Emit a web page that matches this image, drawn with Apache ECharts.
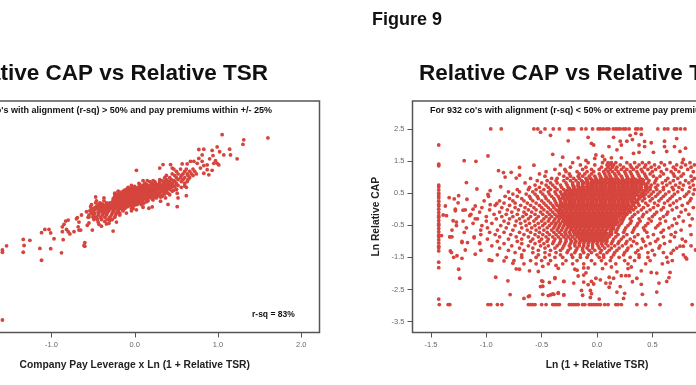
<!DOCTYPE html>
<html>
<head>
<meta charset="utf-8">
<script src="https://cdn.jsdelivr.net/npm/echarts@6/dist/echarts.min.js"></script>
<style>
html, body { margin: 0; padding: 0; background: #fff; }
#chart { width: 696px; height: 385px; }
</style>
</head>
<body>
<div id="chart"></div>
<script>
var leverageTicks = [-2, -1, 0, 1, 2];
var tsrTicks = [-1.5, -1, -0.5, 0, 0.5, 1, 1.5];
var capTicks = [2.5, 1.5, 0.5, -0.5, -1.5, -2.5, -3.5];

// left panel: rows of [Ln Relative CAP, [x values]]
var alignedRows = [
  [1.25, [.47, .55, .62, .70]],
  [1.18, [.50, .60, .66, .72]],
  [1.10, [.45, .52, .58, .63, .68, .74]],
  [1.05, [.38, .48, .56, .64, .70]],
  [.98, [.36, .42, .50, .55, .60, .66]],
  [.92, [.30, .38, .44, .52, .58, .64]],
  [.86, [.18, .24, .30, .36, .42, .48, .56, .63]],
  [.80, [.05, .12, .20, .25, .30, .35, .40, .45, .50, .60]],
  [.74, [-.04, .10, .16, .20, .24, .28, .32, .36, .40, .46, .52]],
  [.68, [-.08, -.02, .04, .08, .12, .16, .20, .24, .28, .32, .38, .44, .56, .62]],
  [.62, [-.10, -.06, -.02, .02, .06, .10, .14, .18, .22, .26, .30, .36, .42, .50]],
  [.56, [-.20, -.14, -.10, -.06, -.02, .02, .06, .10, .14, .18, .22, .26, .32, .38, .45]],
  [.50, [-.24, -.18, -.14, -.10, -.06, -.02, .02, .06, .10, .14, .18, .22, .30, .40, .51]],
  [.44, [-.24, -.20, -.16, -.12, -.08, -.04, 0, .04, .08, .12, .16, .21, .28, .33]],
  [.38, [-.23, -.19, -.15, -.11, -.07, -.03, .01, .05, .09, .13, .18, .24, .31]],
  [.32, [-.26, -.21, -.17, -.13, -.09, -.05, -.01, .03, .07, .11, .15, .21]],
  [.26, [-.46, -.37, -.23, -.19, -.15, -.11, -.07, -.03, .01, .05, .09, .16]],
  [.20, [-.47, -.42, -.34, -.25, -.20, -.16, -.12, -.08, -.04, 0, .05, .11]],
  [.14, [-.52, -.44, -.38, -.30, -.24, -.18, -.14, -.10, -.05, .02, .08]],
  [.08, [-.53, -.46, -.40, -.33, -.26, -.20, -.15, -.09, -.04]],
  [.02, [-.52, -.45, -.38, -.34, -.29, -.24, -.18, -.12, -.04]],
  [-.05, [-.54, -.50, -.42, -.36, -.31, -.25, -.20, -.14, -.04]],
  [-.12, [-.52, -.48, -.43, -.37, -.33, -.27, -.22, -.18]],
  [-.18, [-.55, -.49, -.44, -.39, -.34, -.28, -.23, -.18]],
  [-.25, [-.56, -.50, -.46, -.41, -.36, -.30, -.24]],
  [-.32, [-.49, -.45, -.40, -.33, -.27]]
];
var alignedCoreRows = [
  [.89, [.10, .15, .22, .33, .39, .47]],
  [.77, [.06, .14, .22, .26, .30, .34, .38, .43]],
  [.71, [0, .06, .10, .14, .18, .22, .26, .30, .34, .42, .48]],
  [.65, [-.04, 0, .04, .08, .12, .16, .20, .24, .28, .34, .40]],
  [.59, [-.12, -.08, -.04, 0, .04, .08, .12, .16, .20, .24, .30, .36, .47]],
  [.53, [-.18, -.12, -.08, -.04, 0, .04, .08, .12, .16, .20, .26, .35]],
  [.47, [-.22, -.16, -.12, -.08, -.04, 0, .04, .08, .12, .16, .20, .25, .36]],
  [.41, [-.22, -.18, -.14, -.10, -.06, -.02, .02, .06, .10, .14, .20, .27]],
  [.35, [-.25, -.20, -.16, -.12, -.08, -.04, 0, .04, .08, .12, .17, .26, .37]],
  [.29, [-.24, -.19, -.15, -.11, -.07, -.03, .01, .05, .09, .14, .22]],
  [.23, [-.27, -.22, -.18, -.14, -.10, -.06, -.02, .02, .07, .14]],
  [.17, [-.40, -.33, -.26, -.21, -.17, -.12, -.07, -.02, .04, .10]],
  [.11, [-.42, -.36, -.28, -.23, -.18, -.12, -.07, -.01]],
  [.05, [-.48, -.42, -.36, -.30, -.23, -.17, -.11]],
  [-.01, [-.48, -.40, -.32, -.26, -.20, -.15]],
  [-.08, [-.50, -.44, -.39, -.33, -.26, -.20]]
];
var alignedPoints = [
  [1.05, 2.32], [1.6, 2.22], [1.31, 2.16], [1.30, 2.02], [.77, 1.86], [.83, 1.87], [.99, 1.94], [.93, 1.83],
  [1.14, 1.87], [.81, 1.69], [.94, 1.67], [1.02, 1.79], [1.07, 1.69], [1.15, 1.69], [.77, 1.58], [.90, 1.57],
  [1.23, 1.57], [.97, 1.51], [.99, 1.43], [.95, 1.43], [1.01, 1.38], [.63, 1.41], [.57, 1.41], [.67, 1.49],
  [.71, 1.49], [.75, 1.43], [.79, 1.28], [.83, 1.12], [.89, 1.07], [.93, 1.21], [.87, 1.23], [.83, 1.36],
  [.87, 1.38], [.81, 1.49], [.34, 1.39], [.43, 1.39], [.45, 1.28], [.02, 1.21], [.30, 1.28], [.40, .15],
  [.31, .25], [.51, .08], [.62, .42], [.52, .35], [.21, .07], [.33, .40], [.42, .45], [.50, .62], [.60, .72],
  [-1.59, -3.45], [-1.54, -1.14], [-1.59, -1.27], [-1.59, -1.34], [-1.34, -.94], [-1.33, -1.13], [-1.34, -1.34],
  [-1.26, -.97], [-1.12, -.73], [-1.08, -.63], [-1.03, -.63], [-1.01, -.74], [-.97, -.92], [-.86, -.95],
  [-1.14, -1.22], [-1.01, -1.23], [-1.12, -1.59], [-.88, -1.36], [-.60, -1.15], [-.60, -1.04], [-.61, -1.13],
  [-.87, -.55], [-.85, -.47], [-.83, -.37], [-.80, -.34], [-.87, -.70], [-.82, -.63], [-.80, -.70], [-.78, -.77],
  [-.73, -.70], [-.67, -.65], [-.68, -.55], [-.67, -.40], [-.70, -.30], [-.69, -.26], [-.64, -.18], [-.65, -.65],
  [-.57, -.50], [-.55, -.43], [-.51, -.65], [-.55, -.24], [-.43, -.47], [-.40, -.53], [-.26, -.68], [-.22, -.40],
  [-.34, -.46], [-.30, -.35], [-.50, -.20], [-.49, -.28], [-.44, -.40], [-.36, -.38], [-.31, -.44], [-.58, -.08],
  [-.47, .38], [-.37, .35], [-.30, .20], [-.10, -.12], [.02, -.02], [-.02, .02], [.10, .06], [.17, .03]
];

// right panel
var cappedTop = [-.96, -.865, -.57, -.535, -.47, -.395, -.34, -.25, -.23, -.21, -.14, -.10, -.04, .01, .03, .057, .087, .108,
  .147, .17, .19, .21, .24, .26, .29, .35, .37, .40, .55, .61, .64, .70, .72, .755, .795];
var cappedBottom = [-1.425, -1.345, -1.33, -.985, -.96, -.90, -.86, -.62, -.60, -.58, -.56, -.50, -.46, -.40, -.38, -.36, -.34,
  -.25, -.23, -.21, -.19, -.17, -.13, -.11, -.07, -.05, -.03, -.01, .01, .03, .07, .10, .17, .19, .22, .36, .44, .57, .86];
var cappedLeft = [2.0, 1.4, 1.35, .75, .7, .6, .5, .42, .35, .25, .15, .1, 0, -.1, -.2, -.25, -.35, -.45, -.5, -.6, -.7, -.8,
  -.85, -.95, -1.05, -1.15, -1.2, -1.3, -1.65, -1.82, -2.8];
var scatterRows = [
  [1.45, [-.22, -.08, .05, .10, .13, .17, .27, .34, .41, .47, .58, .66, .77, .84]],
  [1.38, [-.33, -.15, -.02, .09, .12, .15, .21, .30, .38, .44, .52, .61, .72, .80, .88]],
  [1.31, [-.24, -.10, .04, .10, .14, .18, .24, .31, .36, .43, .49, .56, .69, .76, .85]],
  [1.24, [-.38, -.29, -.13, -.05, .02, .08, .12, .17, .22, .27, .33, .40, .46, .53, .63, .71, .82]],
  [1.17, [-.46, -.28, -.18, -.09, -.03, .06, .10, .14, .19, .25, .30, .36, .41, .50, .58, .67, .74, .87]],
  [1.10, [-.52, -.34, -.25, -.16, -.11, -.05, .02, .07, .11, .16, .20, .26, .31, .37, .43, .48, .60, .69, .78]],
  [1.03, [-.47, -.30, -.24, -.17, -.13, -.07, -.02, .03, .08, .12, .17, .22, .27, .32, .38, .44, .51, .57, .70, .76, .85]],
  [.96, [-.60, -.41, -.36, -.27, -.21, -.16, -.10, -.06, -.01, .04, .09, .13, .18, .23, .28, .33, .39, .45, .54, .64, .73, .88]],
  [.89, [-.54, -.45, -.37, -.30, -.24, -.19, -.14, -.09, -.04, 0, .04, .08, .12, .16, .20, .24, .28, .32, .37, .42, .47, .53, .62, .69, .80, .86]],
  [.82, [-.65, -.50, -.42, -.36, -.28, -.22, -.17, -.12, -.08, -.03, .01, .05, .09, .13, .17, .21, .25, .29, .33, .37, .41, .46, .52, .59, .66, .75, .83]],
  [.75, [-.56, -.46, -.40, -.33, -.27, -.22, -.17, -.13, -.08, -.04, 0, .04, .08, .12, .16, .20, .24, .28, .32, .36, .40, .44, .49, .55, .63, .71, .78, .87]],
  [.68, [-.61, -.52, -.44, -.38, -.32, -.26, -.21, -.16, -.12, -.08, -.04, 0, .04, .08, .12, .16, .20, .24, .28, .32, .36, .40, .44, .48, .53, .60, .68, .74, .84]],
  [.61, [-.72, -.62, -.55, -.48, -.42, -.36, -.30, -.25, -.20, -.16, -.12, -.08, -.04, 0, .04, .08, .12, .16, .20, .24, .28, .32, .36, .40, .44, .48, .54, .60, .69, .77, .88]],
  [.54, [-.80, -.70, -.58, -.51, -.44, -.38, -.33, -.28, -.22, -.18, -.14, -.10, -.06, -.02, .02, .06, .10, .14, .18, .22, .26, .30, .34, .38, .42, .46, .51, .57, .65, .73, .83]],
  [.47, [-.76, -.64, -.56, -.49, -.43, -.37, -.32, -.28, -.24, -.20, -.16, -.12, -.08, -.04, 0, .04, .08, .12, .16, .20, .24, .28, .32, .36, .40, .44, .49, .55, .62, .70, .81, .87]],
  [.40, [-.98, -.83, -.72, -.61, -.54, -.47, -.41, -.35, -.30, -.26, -.22, -.18, -.14, -.10, -.06, -.02, .02, .06, .10, .14, .18, .22, .26, .30, .34, .38, .42, .47, .53, .60, .68, .79]],
  [.33, [-.79, -.68, -.60, -.53, -.46, -.39, -.34, -.30, -.26, -.22, -.18, -.14, -.10, -.06, -.02, .02, .06, .10, .14, .18, .22, .26, .30, .34, .38, .43, .50, .58, .66, .75, .85]],
  [.26, [-1.02, -.88, -.76, -.66, -.58, -.50, -.44, -.38, -.33, -.28, -.24, -.20, -.16, -.12, -.08, -.04, 0, .04, .08, .12, .16, .20, .24, .28, .32, .36, .41, .48, .56, .64, .72, .84]],
  [.19, [-.84, -.74, -.63, -.55, -.48, -.42, -.37, -.32, -.28, -.24, -.20, -.16, -.12, -.08, -.04, 0, .04, .08, .12, .16, .20, .24, .28, .32, .37, .44, .52, .61, .69, .82]],
  [.12, [-.92, -.79, -.69, -.60, -.52, -.46, -.40, -.36, -.31, -.27, -.23, -.19, -.15, -.11, -.07, -.03, .01, .05, .09, .13, .17, .21, .25, .29, .33, .38, .46, .55, .66, .77]],
  [.05, [-1.04, -.86, -.74, -.65, -.57, -.50, -.44, -.39, -.34, -.30, -.26, -.22, -.18, -.14, -.10, -.06, -.02, .02, .06, .10, .14, .18, .22, .26, .30, .35, .42, .51, .60, .72, .87]],
  [-.02, [-.97, -.81, -.71, -.62, -.55, -.48, -.42, -.37, -.33, -.28, -.24, -.20, -.16, -.12, -.08, -.04, 0, .04, .08, .12, .16, .20, .24, .28, .33, .40, .48, .58, .68, .80]],
  [-.09, [-1.06, -.88, -.77, -.66, -.59, -.51, -.45, -.40, -.35, -.31, -.27, -.23, -.19, -.15, -.11, -.07, -.03, .01, .05, .09, .13, .17, .21, .25, .30, .37, .45, .54, .64, .76]],
  [-.16, [-1.14, -.93, -.82, -.72, -.64, -.56, -.49, -.43, -.38, -.34, -.30, -.26, -.22, -.18, -.14, -.10, -.06, -.02, .02, .06, .10, .14, .18, .22, .27, .34, .42, .52, .63, .83]],
  [-.23, [-1.0, -.86, -.76, -.67, -.60, -.53, -.46, -.41, -.36, -.32, -.28, -.24, -.20, -.16, -.12, -.08, -.04, 0, .04, .08, .12, .16, .20, .25, .32, .41, .50, .60, .74]],
  [-.30, [-1.10, -.91, -.79, -.70, -.62, -.55, -.48, -.43, -.38, -.34, -.30, -.26, -.22, -.18, -.14, -.10, -.06, -.02, .02, .06, .10, .14, .18, .24, .30, .38, .47, .57, .70, .86]],
  [-.37, [-1.21, -1.0, -.84, -.73, -.65, -.57, -.50, -.44, -.39, -.35, -.31, -.27, -.23, -.19, -.15, -.11, -.07, -.03, .01, .05, .09, .13, .17, .23, .31, .39, .49, .62, .78]],
  [-.44, [-1.12, -.95, -.80, -.69, -.61, -.53, -.47, -.41, -.37, -.33, -.29, -.25, -.21, -.17, -.13, -.09, -.05, -.01, .03, .07, .11, .16, .22, .30, .37, .46, .57, .72]],
  [-.51, [-1.27, -1.04, -.87, -.74, -.64, -.56, -.49, -.43, -.38, -.34, -.30, -.26, -.22, -.18, -.14, -.10, -.06, -.02, .02, .06, .10, .14, .20, .28, .36, .44, .55, .68, .84]],
  [-.58, [-1.18, -.99, -.82, -.68, -.59, -.52, -.45, -.39, -.35, -.31, -.27, -.23, -.19, -.15, -.11, -.07, -.03, .01, .05, .09, .13, .19, .26, .34, .42, .53, .65]],
  [-.65, [-1.31, -1.05, -.90, -.76, -.63, -.55, -.48, -.41, -.36, -.32, -.28, -.24, -.20, -.16, -.12, -.08, -.04, 0, .04, .08, .12, .18, .25, .33, .43, .60, .76]],
  [-.72, [-1.20, -.97, -.84, -.70, -.60, -.52, -.45, -.39, -.34, -.29, -.25, -.21, -.17, -.13, -.09, -.05, -.01, .03, .07, .12, .17, .24, .32, .45, .58, .71]],
  [-.79, [-1.05, -.92, -.78, -.66, -.56, -.49, -.43, -.37, -.32, -.28, -.24, -.20, -.16, -.12, -.08, -.04, 0, .04, .08, .13, .19, .27, .37, .51, .67, .85]],
  [-.86, [-1.33, -1.11, -.88, -.73, -.62, -.53, -.46, -.40, -.35, -.30, -.26, -.22, -.18, -.14, -.10, -.06, -.02, .02, .06, .11, .17, .24, .34, .46, .60, .70]],
  [-.93, [-.99, -.80, -.68, -.58, -.50, -.44, -.38, -.33, -.28, -.24, -.20, -.16, -.12, -.08, -.04, 0, .04, .09, .15, .22, .30, .41, .55, .77]],
  [-1.0, [-1.22, -.90, -.72, -.60, -.52, -.45, -.39, -.33, -.28, -.23, -.19, -.15, -.11, -.07, -.03, .01, .05, .09, .14, .20, .27, .33, .42, .53, .66, .80]],
  [-1.07, [-1.06, -.84, -.68, -.56, -.48, -.40, -.34, -.29, -.24, -.20, -.16, -.12, -.08, -.04, 0, .04, .08, .13, .19, .26, .36, .48, .61]],
  [-1.14, [-.95, -.77, -.62, -.51, -.44, -.36, -.30, -.25, -.20, -.16, -.12, -.08, -.04, .01, .05, .10, .16, .23, .31, .44, .57, .85]],
  [-1.21, [-.88, -.70, -.58, -.47, -.38, -.31, -.24, -.18, -.13, -.09, -.04, .02, .07, .13, .20, .28, .40, .56, .72]],
  [-1.28, [-1.05, -.80, -.66, -.53, -.42, -.33, -.26, -.19, -.13, -.07, -.02, .04, .11, .18, .27, .37, .50, .69]],
  [-1.35, [-.74, -.58, -.47, -.37, -.27, -.20, -.12, -.05, .03, .09, .16, .25, .35, .46, .60]],
  [-1.42, [-.90, -.68, -.53, -.43, -.33, -.23, -.15, -.08, 0, .06, .15, .24, .38, .52, .78]],
  [-1.50, [-.82, -.68, -.55, -.47, -.38, -.31, -.22, -.15, -.09, .02, .06, .13, .20, .30, .38, .46, .63, .80]],
  [-1.60, [-.95, -.75, -.60, -.50, -.42, -.28, -.18, -.05, .04, .12, .25, .34, .48, .68]],
  [-1.70, [-.66, -.55, -.44, -.31, -.22, -.12, -.02, .08, .17, .28, .44, .59]]
];
// solid middle of the right panel, in the gaps between the rows above
var scatterCoreRows = [
  [.925, [-.09, -.05, -.01, .03, .07, .11, .15, .19, .23, .27, .31, .35, .41]],
  [.855, [-.13, -.09, -.05, -.01, .03, .07, .11, .15, .19, .23, .27, .31, .35, .39]],
  [.785, [-.17, -.13, -.09, -.05, -.01, .03, .07, .11, .15, .19, .23, .27, .31, .35, .39, .43]],
  [.715, [-.21, -.17, -.13, -.09, -.05, -.01, .03, .07, .11, .15, .19, .23, .27, .31, .35, .39, .45]],
  [.645, [-.25, -.21, -.17, -.13, -.09, -.05, -.01, .03, .07, .11, .15, .19, .23, .27, .31, .35, .39, .45]],
  [.575, [-.27, -.23, -.19, -.15, -.11, -.07, -.03, .01, .05, .09, .13, .17, .21, .25, .29, .33, .37, .43]],
  [.505, [-.29, -.25, -.21, -.17, -.13, -.09, -.05, -.01, .03, .07, .11, .15, .19, .23, .27, .31, .35, .41]],
  [.435, [-.31, -.27, -.23, -.19, -.15, -.11, -.07, -.03, .01, .05, .09, .13, .17, .21, .25, .29, .33, .37, .41]],
  [.365, [-.31, -.27, -.23, -.19, -.15, -.11, -.07, -.03, .01, .05, .09, .13, .17, .21, .25, .29, .33, .39]],
  [.295, [-.33, -.29, -.25, -.21, -.17, -.13, -.09, -.05, -.01, .03, .07, .11, .15, .19, .23, .27, .31, .37]],
  [.225, [-.33, -.29, -.25, -.21, -.17, -.13, -.09, -.05, -.01, .03, .07, .11, .15, .19, .23, .27, .31, .35]],
  [.155, [-.33, -.29, -.25, -.21, -.17, -.13, -.09, -.05, -.01, .03, .07, .11, .15, .19, .23, .27, .33]],
  [.085, [-.33, -.29, -.25, -.21, -.17, -.13, -.09, -.05, -.01, .03, .07, .11, .15, .19, .23, .27, .31]],
  [.015, [-.33, -.29, -.25, -.21, -.17, -.13, -.09, -.05, -.01, .03, .07, .11, .15, .19, .23, .27, .31]],
  [-.055, [-.35, -.31, -.27, -.23, -.19, -.15, -.11, -.07, -.03, .01, .05, .09, .13, .17, .21, .25, .29]],
  [-.125, [-.33, -.29, -.25, -.21, -.17, -.13, -.09, -.05, -.01, .03, .07, .11, .15, .19, .23, .27]],
  [-.195, [-.33, -.29, -.25, -.21, -.17, -.13, -.09, -.05, -.01, .03, .07, .11, .15, .19, .25]],
  [-.265, [-.31, -.27, -.23, -.19, -.15, -.11, -.07, -.03, .01, .05, .09, .13, .17, .23]],
  [-.335, [-.29, -.25, -.21, -.17, -.13, -.09, -.05, -.01, .03, .07, .11, .15, .21]],
  [-.405, [-.29, -.25, -.21, -.17, -.13, -.09, -.05, -.01, .03, .07, .11, .15, .19]],
  [-.475, [-.27, -.23, -.19, -.15, -.11, -.07, -.03, .01, .05, .09, .13, .17]],
  [-.545, [-.25, -.21, -.17, -.13, -.09, -.05, -.01, .03, .07, .11, .15]],
  [-.615, [-.23, -.19, -.15, -.11, -.07, -.03, .01, .05, .09, .15]],
  [-.685, [-.21, -.17, -.13, -.09, -.05, -.01, .03, .07, .13]],
  [-.755, [-.19, -.15, -.11, -.07, -.03, .01, .05, .09, .13]],
  [-.825, [-.17, -.13, -.09, -.05, -.01, .03, .07, .11]],
  [-.895, [-.15, -.11, -.07, -.03, .01, .05, .09]],
  [-.965, [-.13, -.09, -.05, -.01, .03, .07]]
];
var scatterPoints = [
  [-.51, 2.4], [-.42, 2.3], [-.26, 2.13], [-.08, 2.24], [.15, 2.24], [.21, 2.12], [.27, 2.12], [.32, 2.17], [.43, 2.11], [.49, 2.07],
  [.61, 2.12], [.72, 2.2], [-.05, 2.05], [-.03, 2.0], [.108, 1.95], [.22, 2.0], [.18, 1.85], [.38, 2.0], [.43, 1.95], [.33, 1.74],
  [.38, 1.77], [.61, 1.95], [.70, 1.95], [.80, 1.9], [.63, 1.8], [.51, 1.77], [-.4, 1.71], [-.31, 1.62], [-.17, 1.6], [-.1, 1.52],
  [-.01, 1.69], [-.02, 1.58], [.05, 1.65], [.07, 1.54], [.13, 1.6], [.22, 1.6], [.75, 1.8], [.78, 1.55], [.3, 2.3], [.35, 2.36], [.4, 2.33],
  [-1.2, 1.51], [-1.094, 1.49], [-.985, 1.66], [-.57, 1.37], [-.89, 1.2], [-.845, 1.14], [-.83, 1.0], [-.775, 1.15], [-.70, 1.3],
  [-.70, 1.06], [-.73, .97], [-1.18, .83], [-1.085, .63], [-.87, .7], [-.985, .46], [-.965, .58], [-1.336, .36], [-1.29, .32], [-1.25, .42],
  [-1.255, .2], [-1.175, .31], [-1.37, .1], [-1.10, .1], [-1.12, 0], [-1.19, -.02], [-1.21, -.03], [-1.28, 0], [-1.28, -.05], [-.905, .18],
  [-.965, .14], [-1.39, -.18], [-1.36, -.2], [-1.3, -.36], [-1.27, -.4], [-1.15, -.2], [-1.08, -.3],
  [-1.33, -.86], [-1.31, -.86], [-1.405, -.82], [-1.11, -.89], [-1.22, -1.04], [-1.17, -1.04], [-1.19, -1.27], [-1.06, -1.05],
  [-1.325, -1.3], [-1.315, -1.35], [-1.295, -1.5], [-1.265, -1.45], [-1.22, -1.53], [-1.25, -1.87], [-1.24, -2.15], [-1.10, -1.4], [-.975, -1.58],
  [-.915, -2.12], [-.805, -2.23], [-.785, -2.66], [-.66, -2.78], [-.62, -2.72], [-.61, -2.7], [-.5, -2.23], [-.51, -2.41], [-.49, -2.65],
  [-.44, -2.69], [-.49, -2.25], [-.43, -2.28], [-.38, -2.16], [-.3, -2.25], [-.49, -2.4], [-.42, -2.67], [-.39, -2.65], [-.35, -2.6], [-.3, -2.67],
  [-.61, -1.92], [-.53, -1.94], [-.49, -1.78], [-.37, -1.75], [-.35, -1.84], [-.76, -1.68], [-.73, -1.86], [-.7, -1.87], [-.84, -1.61], [-.97, -1.58],
  [-.4, -2.64], [-.35, -2.62], [-.3, -2.67], [-.38, -2.13], [-.3, -2.25], [-.21, -2.3], [-.12, -2.27], [-.14, -2.53], [-.13, -2.68], [-.06, -2.53],
  [-.05, -2.63], [-.06, -2.75], [.02, -2.8], [-.08, -2.35], [-.03, -2.33], [-.05, -2.25], [-.01, -2.15], [.03, -2.2], [.08, -2.3], [.12, -2.3],
  [.11, -2.12], [.11, -2.43], [.15, -2.15], [.18, -2.58], [.21, -2.41], [.25, -2.62], [.24, -2.78], [.22, -2.07], [.26, -2.07], [.29, -2.07],
  [.32, -2.26], [.36, -2.15], [.40, -2.34], [.41, -2.65], [.31, -1.8], [.28, -1.85], [.40, -1.92], [.49, -1.97], [.54, -1.99], [.56, -2.3],
  [.54, -2.58], [.63, -2.25], [.65, -2.13], [.66, -1.97], [.64, -1.65], [.67, -1.37], [.75, -1.15], [.78, -1.15], [.81, -1.55], [.89, -1.27],
  [-.2, -1.87], [-.18, -1.9], [-.12, -2.05], [-.1, -1.98], [-.17, -2.08], [-.08, -1.83], [-.12, -1.83], [.05, -1.85], [.13, -1.8], [.18, -1.95]
];

function expandRows(rows) {
  var pts = [];
  rows.forEach(function (row) {
    row[1].forEach(function (x) { pts.push([x, row[0]]); });
  });
  return pts;
}
function rowOf(xs, y) { return xs.map(function (x) { return [x, y]; }); }
function columnOf(ys, x) { return ys.map(function (y) { return [x, y]; }); }

var alignedData = alignedPoints.concat(expandRows(alignedRows), expandRows(alignedCoreRows));
var scatterData = scatterPoints.concat(expandRows(scatterRows), expandRows(scatterCoreRows), rowOf(cappedTop, 2.5), rowOf(cappedBottom, -2.97), columnOf(cappedLeft, -1.43));

var boxColor = '#555';
var labelFont = 'Liberation Sans';
function tickFmt(v) { return Number(v).toFixed(1); }

function makeAxis(gridIndex, min, max, ticks, name, nameGap) {
  return {
    type: 'value', gridIndex: gridIndex, min: min, max: max,
    name: name, nameLocation: 'middle', nameGap: nameGap,
    nameTextStyle: { fontFamily: labelFont, fontWeight: 'bold', fontSize: 10.3, color: '#222' },
    splitLine: { show: false },
    axisLine: { show: false, onZero: false },
    axisTick: { show: true, length: 5, customValues: ticks, lineStyle: { color: boxColor, width: 1 } },
    axisLabel: { show: true, customValues: ticks, formatter: tickFmt, margin: 8, fontFamily: labelFont, fontSize: 7.5, color: '#666' }
  };
}
function makeTitle(cfg, text, size) {
  var t = Object.assign({ text: text, padding: 0, textStyle: { fontFamily: labelFont, fontWeight: 'bold', fontSize: size, color: '#111' } }, cfg);
  return t;
}

var chart = echarts.init(document.getElementById('chart'), null, { renderer: 'canvas' });
chart.setOption({
  animation: false,
  backgroundColor: '#fff',
  title: [
    makeTitle({ left: 372, top: 11 }, 'Figure 9', 18),
    makeTitle({ right: 428, top: 62 }, 'Relative CAP vs Relative TSR', 22.5),
    makeTitle({ left: 419, top: 62 }, 'Relative CAP vs Relative TSR', 22.5),
    makeTitle({ right: 424, top: 106 }, "For co's with alignment (r-sq) > 50% and pay premiums within +/- 25%", 9),
    makeTitle({ left: 430, top: 106 }, "For 932 co's with alignment (r-sq) < 50% or extreme pay premiums", 9),
    makeTitle({ left: 252, top: 310 }, 'r-sq = 83%', 8.5)
  ],
  grid: [
    { left: -50, top: 101, width: 369.5, height: 231.5, outerBoundsMode: 'none', show: true, borderColor: boxColor, borderWidth: 1.5, backgroundColor: '#fff' },
    { left: 412.5, top: 101, width: 369, height: 231.5, outerBoundsMode: 'none', show: true, borderColor: boxColor, borderWidth: 1.5, backgroundColor: '#fff' }
  ],
  xAxis: [
    makeAxis(0, -2.22, 2.22, leverageTicks, 'Company Pay Leverage x Ln (1 + Relative TSR)', 27.5),
    makeAxis(1, -1.667, 1.667, tsrTicks, 'Ln (1 + Relative TSR)', 27.5)
  ],
  yAxis: [
    makeAxis(0, -3.84, 3.37, capTicks, 'Ln Relative CAP', 31),
    makeAxis(1, -3.84, 3.37, capTicks, 'Ln Relative CAP', 31)
  ],
  series: [
    { type: 'scatter', xAxisIndex: 0, yAxisIndex: 0, data: alignedData, symbolSize: 3.8, itemStyle: { color: '#d5453d', opacity: 1 } },
    { type: 'scatter', xAxisIndex: 1, yAxisIndex: 1, data: scatterData, symbolSize: 3.8, itemStyle: { color: '#d5453d', opacity: 1 } }
  ]
});
</script>
</body>
</html>
